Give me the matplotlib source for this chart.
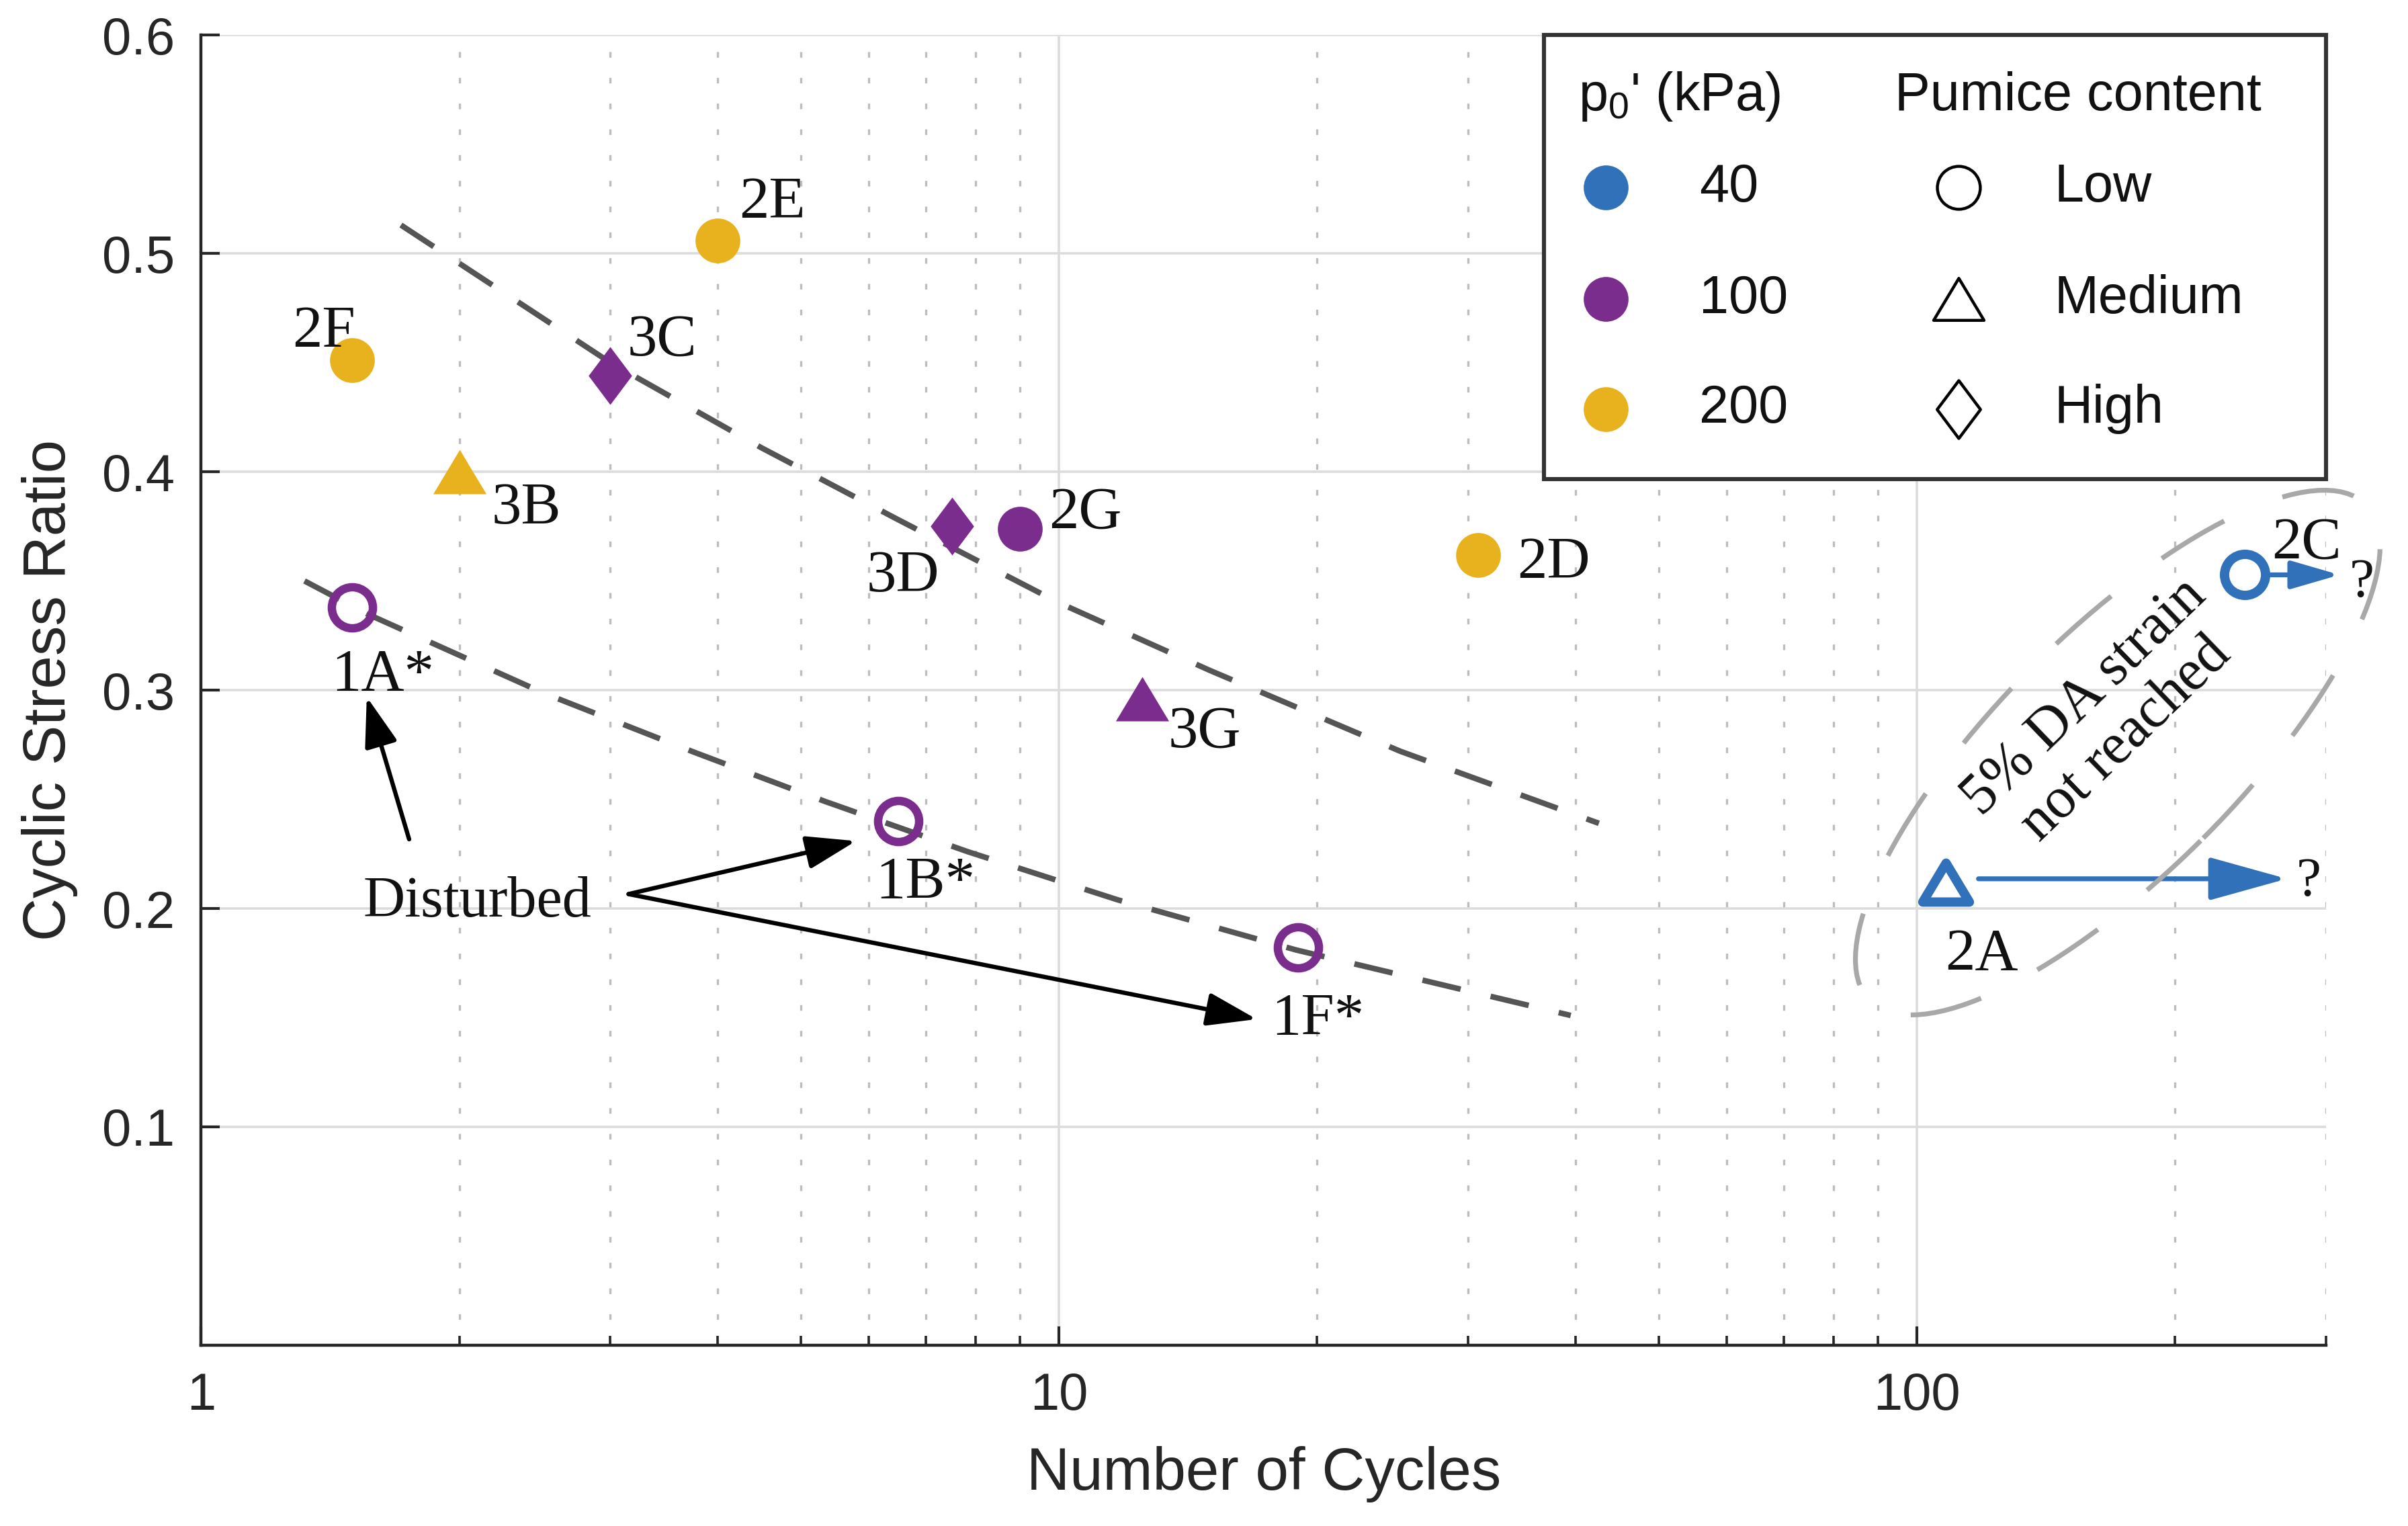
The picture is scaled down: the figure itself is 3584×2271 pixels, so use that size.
import numpy as np
import matplotlib
matplotlib.use('Agg')
import matplotlib.pyplot as plt
from matplotlib.patches import Rectangle, Ellipse
from matplotlib.path import Path
from matplotlib.ticker import LogLocator, NullFormatter, FixedLocator, FixedFormatter

plt.rcParams['font.family'] = ['Liberation Sans', 'DejaVu Sans']
plt.rcParams['mathtext.fontset'] = 'custom'
plt.rcParams['mathtext.rm'] = 'Liberation Sans'
plt.rcParams['mathtext.it'] = 'Liberation Sans:italic'

# ---------------- data ----------------
test_ids = ['2F', '2E', '3B', '3C', '3D', '2G', '2D', '3G', '1A*', '1B*', '1F*', '2A', '2C']
cycles   = [1.5, 4.0, 2.0, 3.0, 7.5, 9.0, 30.8, 12.5, 1.5, 6.5, 19.0, 108, 241]
csr      = [0.451, 0.506, 0.400, 0.444, 0.375, 0.374, 0.362, 0.296, 0.338, 0.240, 0.182, 0.212, 0.353]
pressure = [200, 200, 200, 100, 100, 100, 200, 100, 100, 100, 100, 40, 40]
pumice   = ['Low', 'Low', 'Medium', 'High', 'High', 'Low', 'Low', 'Medium', 'Low', 'Low', 'Low', 'Medium', 'Low']
hollow   = [False, False, False, False, False, False, False, False, True, True, True, True, True]

label_x  = [1.39, 4.24, 2.18, 3.14, 5.97, 9.73, 34.2, 13.4, 1.42, 6.11, 17.7, 108, 259]
label_y  = [0.467, 0.526, 0.386, 0.463, 0.355, 0.384, 0.361, 0.2835, 0.3096, 0.2146, 0.152, 0.1817, 0.370]
label_ha = ['center', 'left', 'left', 'left', 'left', 'left', 'left', 'left', 'left', 'left', 'left', 'left', 'left']

# trend curves
upper_x = [1.71, 3.0, 4.5, 6.5, 10.0, 15.0, 25.0, 42.6]
upper_y = [0.513, 0.450, 0.411, 0.378, 0.340, 0.309, 0.272, 0.239]
lower_x = [1.32, 1.56, 2.51, 3.76, 5.34, 7.83, 11.7, 18.9, 39.5]
lower_y = [0.350, 0.335, 0.2986, 0.2715, 0.249, 0.226, 0.204, 0.181, 0.151]

# run-out arrows (5% DA not reached)
runout_start_x = [118, 258]
runout_tip_x   = [270, 311]
runout_y       = [0.2136, 0.3528]
runout_q_x     = [277, 319]
runout_q_y     = [0.215, 0.352]

# "Disturbed" annotation
disturbed_text_xy = (1.544, 0.2058)
disturbed_start_x = [1.748, 3.15, 3.15]
disturbed_start_y = [0.2317, 0.2066, 0.2066]
disturbed_tip_x   = [1.56, 5.80, 17.0]
disturbed_tip_y   = [0.2969, 0.2309, 0.1493]

legend_pressures = [40, 100, 200]
legend_pumice = ['Low', 'Medium', 'High']

colors = {40: '#3171B9', 100: '#7B2D8E', 200: '#E8B21E'}

DIAMOND = Path([(0, 1), (0.75, 0), (0, -1), (-0.75, 0), (0, 1)],
               [Path.MOVETO, Path.LINETO, Path.LINETO, Path.LINETO, Path.CLOSEPOLY])
TRIANGLE = Path([(-0.6, -0.5), (0.6, -0.5), (0, 0.5), (-0.6, -0.5)],
                [Path.MOVETO, Path.LINETO, Path.LINETO, Path.CLOSEPOLY])
marker_of = {'Low': 'o', 'Medium': TRIANGLE, 'High': DIAMOND}
size_filled = {'Low': 24, 'Medium': 28.5, 'High': 31}
size_hollow = {'Low': 22, 'Medium': 25, 'High': 28}

SERIF = ['Liberation Serif', 'DejaVu Serif']

# ---------------- figure ----------------
fig = plt.figure(figsize=(17.92, 11.355), dpi=200)
ax = fig.add_axes([0.0835, 0.1185, 0.8825, 0.8585])
ax.set_xscale('log')
ax.set_xlim(1, 300)
ax.set_ylim(0, 0.6)

for s in ['top', 'right']:
    ax.spines[s].set_visible(False)
for s in ['left', 'bottom']:
    ax.spines[s].set_linewidth(1.6)
    ax.spines[s].set_color('#262626')

ax.xaxis.set_major_locator(FixedLocator([1, 10, 100]))
ax.xaxis.set_major_formatter(FixedFormatter(['1', '10', '100']))
ax.xaxis.set_minor_locator(LogLocator(base=10, subs=range(2, 10)))
ax.xaxis.set_minor_formatter(NullFormatter())
ax.set_yticks([0.1, 0.2, 0.3, 0.4, 0.5, 0.6])
ax.set_yticklabels(['0.1', '0.2', '0.3', '0.4', '0.5', '0.6'])
ax.tick_params(which='major', direction='in', length=10, width=1.5, color='#262626',
               labelsize=28, labelcolor='#262626', pad=14, top=False, right=False)
ax.tick_params(which='minor', direction='in', length=5, width=1.3, color='#262626',
               top=False, right=False)

ax.set_axisbelow(True)
ax.grid(which='major', color='#dcdcdc', lw=1.3, ls='-')
ax.xaxis.grid(which='minor', color='#bdbdbd', lw=1.2, ls=(0, (2.5, 9)))

ax.set_xlabel('Number of Cycles', fontsize=32, color='#262626')
ax.set_ylabel('Cyclic Stress Ratio', fontsize=32, color='#262626')
ax.yaxis.set_label_coords(-0.058, 0.5)
ax.xaxis.set_label_coords(0.5, -0.077)

# trend lines
ax.plot(upper_x, upper_y, color='#555555', lw=3, dashes=(7, 5.5), zorder=2)
ax.plot(lower_x, lower_y, color='#555555', lw=3, dashes=(7, 5.5), zorder=2)

# points
for i in range(len(test_ids)):
    c = colors[pressure[i]]
    m = marker_of[pumice[i]]
    if hollow[i]:
        mew = 5 if pressure[i] == 40 else 4.5
        ax.plot([cycles[i]], [csr[i]], marker=m, ms=size_hollow[pumice[i]], mfc='none',
                mec=c, mew=mew, ls='none', zorder=4)
    else:
        ax.plot([cycles[i]], [csr[i]], marker=m, ms=size_filled[pumice[i]], mfc=c,
                mec='none', ls='none', zorder=4)
    ax.text(label_x[i], label_y[i] - 0.003, test_ids[i], ha=label_ha[i], va='center',
            fontsize=32, family=SERIF, color='#111111', zorder=5)

# run-out arrows
heads = ['-|>,head_length=0.9,head_width=0.25', '-|>,head_length=0.55,head_width=0.16']
for k in range(2):
    ax.annotate('', xy=(runout_tip_x[k], runout_y[k]), xytext=(runout_start_x[k], runout_y[k]),
                arrowprops=dict(arrowstyle=heads[k], mutation_scale=40, lw=2.6,
                                color=colors[40], shrinkA=0, shrinkB=0),
                annotation_clip=False, zorder=4)
    ax.text(runout_q_x[k], runout_q_y[k] - 0.003, '?', ha='left', va='center', fontsize=30,
            family=SERIF, color='#111111', clip_on=False)

# "Disturbed"
ax.text(disturbed_text_xy[0], disturbed_text_xy[1] - 0.003, 'Disturbed', ha='left', va='center',
        fontsize=31, family=SERIF, color='#111111', zorder=5)
for k in range(3):
    ax.annotate('', xy=(disturbed_tip_x[k], disturbed_tip_y[k]),
                xytext=(disturbed_start_x[k], disturbed_start_y[k]),
                arrowprops=dict(arrowstyle='-|>,head_length=0.6,head_width=0.2',
                                mutation_scale=38, lw=2.3, color='black',
                                shrinkA=0, shrinkB=0), zorder=5)

# "5% DA strain not reached" text
ax.text(166, 0.287, '5% DA strain\nnot reached', rotation=44, rotation_mode='anchor',
        ha='center', va='center', fontsize=31, family=SERIF, color='#111111',
        linespacing=1.15, zorder=5)

# dashed ellipse outline (annotation), in inches
ell = Ellipse((3152 / 200.0, (2271 - 1120) / 200.0), width=2 * 522 / 200.0,
              height=2 * 180 / 200.0, angle=45, fill=False, edgecolor='#a8a8a8',
              lw=2.6, ls=(0, (15, 13)), transform=fig.dpi_scale_trans, zorder=3)
ell.set_capstyle('butt')
fig.add_artist(ell)

# ---------------- legend (custom) ----------------
box = Rectangle((0.632, 0.661), 0.368, 0.339, transform=ax.transAxes, facecolor='white',
                edgecolor='#333333', lw=2.2, zorder=10, clip_on=False)
ax.add_patch(box)
ax.text(0.648, 0.953, "p$_\\mathregular{0}$' (kPa)", transform=ax.transAxes, ha='left',
        va='center', fontsize=28.5, color='#111111', zorder=11)
ax.text(0.797, 0.953, 'Pumice content', transform=ax.transAxes, ha='left', va='center',
        fontsize=28.5, color='#111111', zorder=11)
row_y = [0.8835, 0.7985, 0.7145]
for k in range(3):
    ax.plot([0.661], [row_y[k]], marker='o', ms=24, mfc=colors[legend_pressures[k]], mec='none',
            transform=ax.transAxes, clip_on=False, zorder=11, ls='none')
    ax.text(0.705, row_y[k], str(legend_pressures[k]), transform=ax.transAxes, ha='left',
            va='center', fontsize=28.5, color='#111111', zorder=11)
    ax.plot([0.827], [row_y[k]], marker=marker_of[legend_pumice[k]],
            ms={'Low': 23, 'Medium': 27, 'High': 31}[legend_pumice[k]],
            mfc='none', mec='black', mew=1.6, transform=ax.transAxes, clip_on=False,
            zorder=11, ls='none')
    ax.text(0.872, row_y[k], legend_pumice[k], transform=ax.transAxes, ha='left',
            va='center', fontsize=28.5, color='#111111', zorder=11)

fig.savefig('out.png', dpi=200, facecolor='white')
